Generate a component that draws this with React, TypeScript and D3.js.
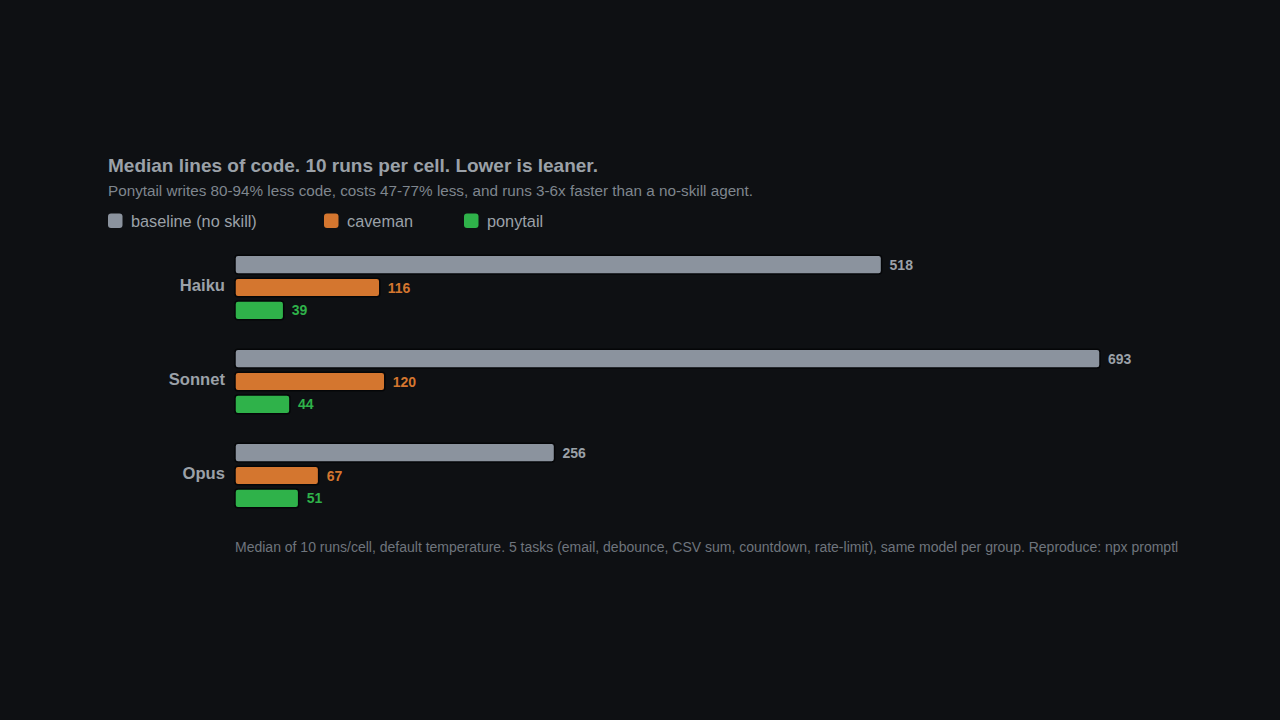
import React from "react";
import * as d3 from "d3";

const groups = ["Haiku", "Sonnet", "Opus"];
const seriesNames = ["baseline (no skill)", "caveman", "ponytail"];
const baseline = [518, 693, 256];
const caveman = [116, 120, 67];
const ponytail = [39, 44, 51];
const seriesColors = ["#8b939e", "#d4762f", "#2fb24a"];
const labelColors = ["#9ba1a8", "#d4762f", "#2fb24a"];

const title = "Median lines of code. 10 runs per cell. Lower is leaner.";
const subtitle = "Ponytail writes 80-94% less code, costs 47-77% less, and runs 3-6x faster than a no-skill agent.";
const footnote = "Median of 10 runs/cell, default temperature. 5 tasks (email, debounce, CSV sum, countdown, rate-limit), same model per group. Reproduce: npx promptl";

const W = 1280;
const H = 720;
const FONT = "'Liberation Sans', Arial, Helvetica, sans-serif";

export default function App() {
  const values = [baseline, caveman, ponytail];
  const maxV = d3.max(values.flat()) as number;
  const x = d3.scaleLinear().domain([0, maxV]).range([235, 1100]);
  const y = d3.scaleBand<string>().domain(groups).range([255.3, 255.3 + 94 * groups.length]).paddingInner(0);
  const inner = d3.scaleBand<string>().domain(seriesNames).range([0, 64.4]).paddingInner(0.18).paddingOuter(0);
  const bw = inner.bandwidth();
  const legendX = [108, 324, 464];

  return (
    <svg width={W} height={H} style={{ position: "fixed", left: 0, top: 0, background: "#0e1013" }} fontFamily={FONT}>
      <rect x={0} y={0} width={W} height={H} fill="#0e1013" />
      <defs>
        <clipPath id="footclip">
          <rect x={0} y={520} width={1178} height={50} />
        </clipPath>
      </defs>
      <text x={108} y={172} fontSize={19} fontWeight={700} fill="#9ba1a8">{title}</text>
      <text x={108} y={196} fontSize={15.25} fill="#7f868e">{subtitle}</text>
      {seriesNames.map((s, i) => (
        <g key={s}>
          <rect x={legendX[i]} y={213.5} width={14.5} height={14.5} rx={3} fill={seriesColors[i]} />
          <text x={legendX[i] + 23} y={226.5} fontSize={16.3} fill="#9ba1a8">{s}</text>
        </g>
      ))}
      {groups.map((g, gi) => {
        const gy = y(g) as number;
        return (
          <g key={g}>
            <text x={225} y={gy + (inner(seriesNames[1]) as number) + bw / 2 + 3.5} fontSize={16.6} fontWeight={700} fill="#9ba1a8" textAnchor="end">{g}</text>
            {seriesNames.map((s, si) => {
              const v = values[si][gi];
              const by = gy + (inner(s) as number);
              return (
                <g key={s}>
                  <rect x={x(0)} y={by} width={x(v) - x(0)} height={bw} rx={3} fill={seriesColors[si]} stroke="#050608" strokeWidth={1.5} />
                  <text x={x(v) + 8} y={by + bw / 2 + 5} fontSize={14} fontWeight={600} fill={labelColors[si]}>{v}</text>
                </g>
              );
            })}
          </g>
        );
      })}
      <g clipPath="url(#footclip)">
        <text x={235} y={552} fontSize={14} fill="#6f757d">{footnote}</text>
      </g>
    </svg>
  );
}
